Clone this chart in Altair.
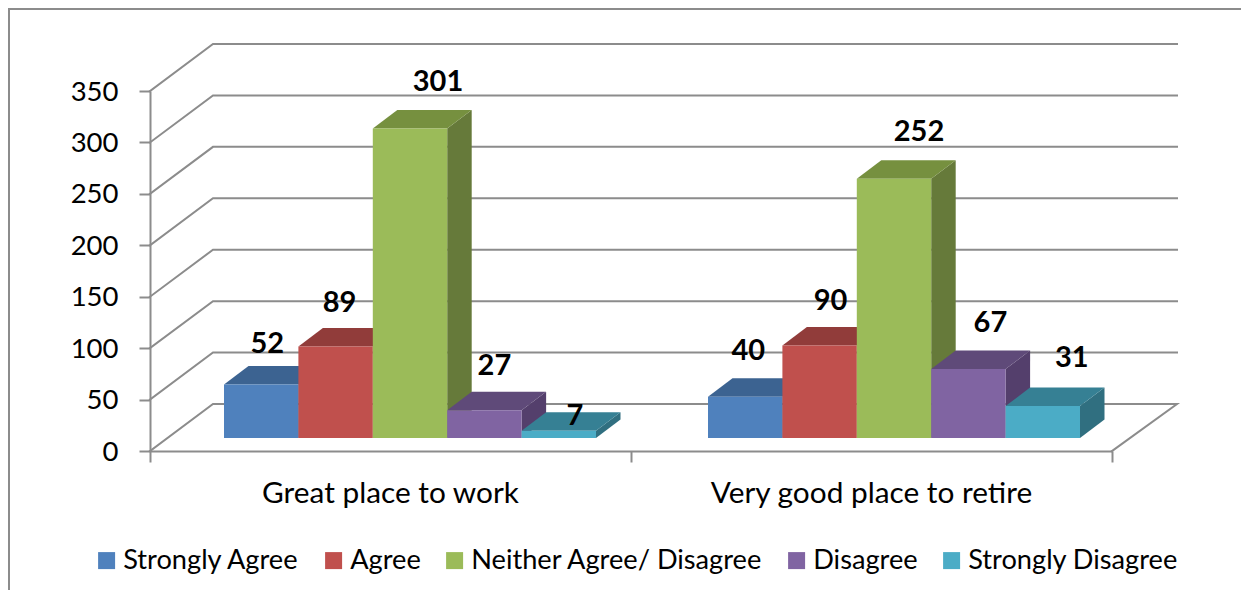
import altair as alt
import pandas as pd

categories = ["Great place to work", "Very good place to retire"]
series = ["Strongly Agree", "Agree", "Neither Agree/ Disagree", "Disagree", "Strongly Disagree"]
values_work = [52, 89, 301, 27, 7]
values_retire = [40, 90, 252, 67, 31]
y_ticks = [0, 50, 100, 150, 200, 250, 300, 350]
x_ticks = [0, 1, 2]

front_colors = ["#4F81BD", "#C0504D", "#9BBB59", "#8064A2", "#4BACC6"]
top_colors = ["#3C6391", "#913C3A", "#76903F", "#5F4A79", "#368094"]
side_colors = ["#335480", "#7F3230", "#667A3A", "#543F6C", "#306F80"]

# hand placement of the value labels relative to each bar (pixels)
label_dx = [[6, 4, 28, 10, 16], [3, 11, 25, 22, 29]]
label_dy = [[41, 43, 46, 44, 15], [46, 44, 47, 46, 48]]

PX_X = 962 / 2          # pixels per x unit
PX_Y = 360 / 350        # pixels per y unit
BAR_W = 74.4 / PX_X
BAR_START = 74 / PX_X
GROUP_STEP = 484 / PX_X
BASE = 13 / PX_Y
DEPTH_X = 24.5 / PX_X
DEPTH_Y = 18.5 / PX_Y
WALL_X = 63 / PX_X
WALL_Y = 47 / PX_Y
WALL_END = 1027 / PX_X

GREY = "#8C8C8C"
FONT = "Lato"

xs = alt.Scale(domain=[0, 2], nice=False, zero=False)
ys = alt.Scale(domain=[0, 350], nice=False, zero=False)
x_axis = alt.Axis(values=x_ticks, labels=False, grid=False, tickSize=11, tickWidth=2, tickColor=GREY,
                  domainColor=GREY, domainWidth=2, title=None)
y_axis = alt.Axis(values=y_ticks, grid=False, tickSize=11, tickWidth=2, tickColor=GREY,
                  domainColor=GREY, domainWidth=2, labelFont=FONT, labelFontSize=27.5,
                  labelColor="#000000", labelPadding=21, labelOffset=1, title=None)
X = lambda f: alt.X(f, type="quantitative", scale=xs, axis=x_axis)
Y = lambda f: alt.Y(f, type="quantitative", scale=ys, axis=y_axis)

front, side, top, labels = [], [], [], []
for g, vals in enumerate([values_work, values_retire]):
    for i, v in enumerate(vals):
        left = BAR_START + g * GROUP_STEP + i * BAR_W
        right = left + BAR_W
        bar = f"{g}-{i}"
        front.append(dict(series=series[i], l=left, r=right, b=BASE, t=BASE + v))
        side.append(dict(bar=bar, c=side_colors[i], x=right, y=BASE + v, y2=BASE))
        side.append(dict(bar=bar, c=side_colors[i], x=right + DEPTH_X, y=BASE + v + DEPTH_Y, y2=BASE + DEPTH_Y))
        top.append(dict(bar=bar, c=top_colors[i], y=BASE + v, x=left, x2=right))
        top.append(dict(bar=bar, c=top_colors[i], y=BASE + v + DEPTH_Y, x=left + DEPTH_X, x2=right + DEPTH_X))
        labels.append(dict(text=str(v), x=(left + right) / 2 + label_dx[g][i] / PX_X,
                           y=BASE + v + label_dy[g][i] / PX_Y))

grid = []
for v in y_ticks:
    grid.append(dict(k=v, o=0, x=0, y=v))
    grid.append(dict(k=v, o=1, x=WALL_X, y=v + WALL_Y))
    grid.append(dict(k=v, o=2, x=WALL_END, y=v + WALL_Y))
grid.append(dict(k=0, o=3, x=2, y=0))

axes_layer = alt.Chart(pd.DataFrame(grid)).mark_line(color=GREY, strokeWidth=2, strokeCap="square").encode(
    x=X("x"), y=Y("y"), detail="k:N", order="o:Q",
)
side_layer = alt.Chart(pd.DataFrame(side)).mark_area().encode(
    x=X("x"), y=Y("y"), y2="y2:Q", detail="bar:N", color=alt.Color("c:N", scale=None),
)
top_layer = alt.Chart(pd.DataFrame(top)).mark_area(orient="horizontal").encode(
    y=Y("y"), x=X("x"), x2="x2:Q", detail="bar:N", color=alt.Color("c:N", scale=None),
)
front_layer = alt.Chart(pd.DataFrame(front)).mark_rect().encode(
    x=X("l"), x2="r:Q", y=Y("b"), y2="t:Q",
    color=alt.Color("series:N", sort=series, scale=alt.Scale(domain=series, range=front_colors),
                    legend=alt.Legend(orient="none", legendX=-57, legendY=456, direction="horizontal", columns=5,
                                      gridAlign="none", title=None, symbolType="square", symbolSize=289,
                                      symbolStrokeWidth=0, labelFont=FONT, labelFontSize=27.2, labelColor="#000000",
                                      labelOffset=3, labelLimit=500, columnPadding=20, padding=0)),
)
label_layer = alt.Chart(pd.DataFrame(labels)).mark_text(
    font=FONT, fontWeight="bold", fontSize=29, color="#000000", baseline="middle", align="center"
).encode(x=X("x"), y=Y("y"), text="text:N")

cat_layer = alt.Chart(pd.DataFrame(dict(c=categories, x=[0.5, 1.5]))).mark_text(
    font=FONT, fontSize=29.8, color="#000000", baseline="middle", align="center"
).encode(x=X("x"), y=alt.value(403), text="c:N")

frame_left = alt.Chart(pd.DataFrame(dict(a=[0]))).mark_rule(color=GREY, strokeWidth=2).encode(
    x=alt.value(-141), y=alt.value(-83), y2=alt.value(499))
frame_top = alt.Chart(pd.DataFrame(dict(a=[0]))).mark_rule(color=GREY, strokeWidth=2).encode(
    x=alt.value(-142), x2=alt.value(1091), y=alt.value(-82))

chart = alt.layer(axes_layer, frame_left, frame_top, side_layer, top_layer, front_layer, label_layer, cat_layer).properties(
    width=962, height=360,
    padding={"left": 142, "top": 83, "right": 129, "bottom": 139},
    autosize=alt.AutoSizeParams(type="none", contains="content"),
    background="white",
).configure_view(stroke=None)

chart.save("out.html", embed_options={"renderer": "svg", "actions": False})
